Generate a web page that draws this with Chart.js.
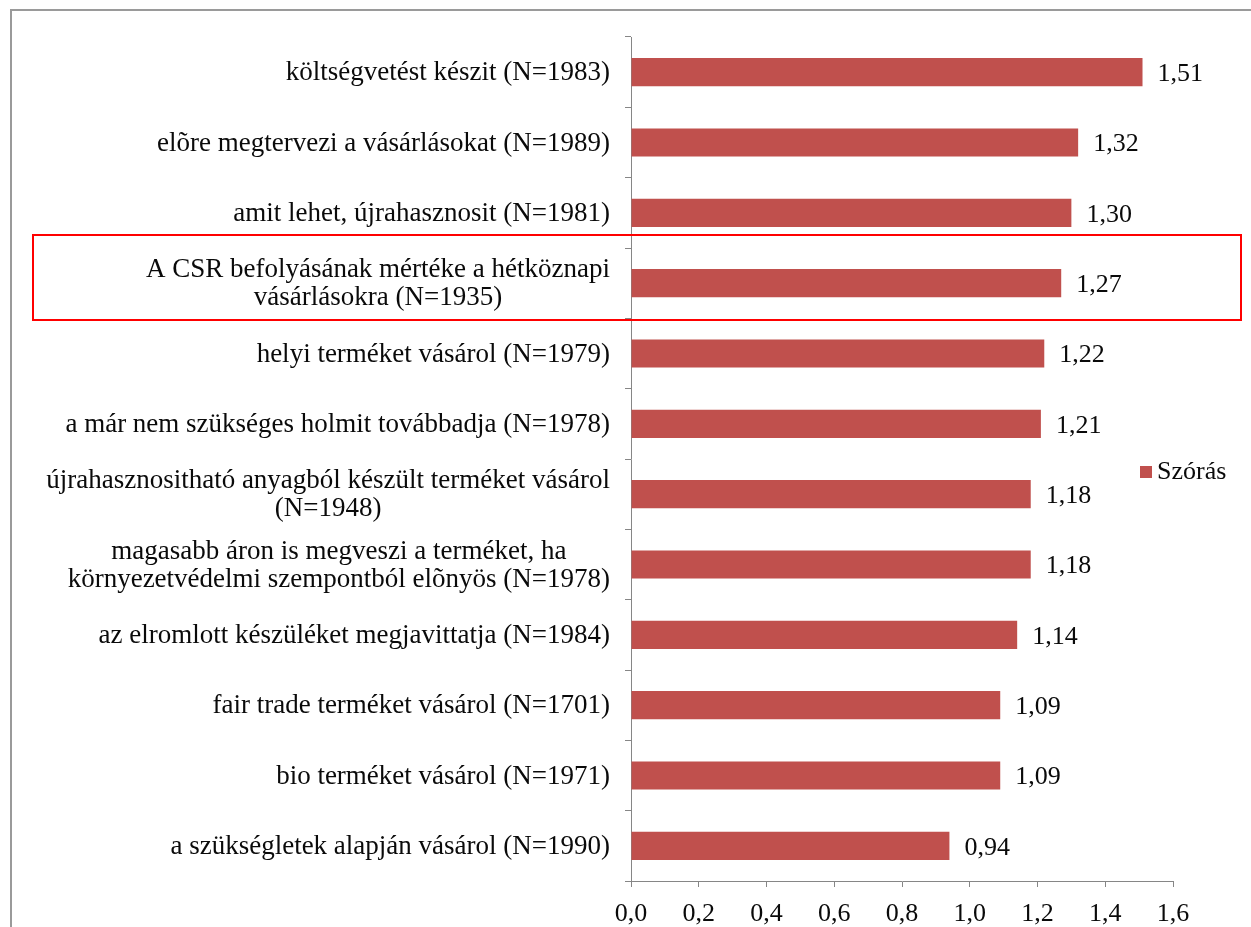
<!DOCTYPE html>
<html>
<head>
<meta charset="utf-8">
<script src="https://cdn.jsdelivr.net/npm/chart.js@4.4.1/dist/chart.umd.min.js"></script>
<style>
  html, body { margin: 0; padding: 0; background: #ffffff; }
  #wrap { position: relative; width: 1251px; height: 927px; }
</style>
</head>
<body>
<div id="wrap"><canvas id="chart" width="1251" height="927"></canvas></div>
<script>
// Category labels (multi-line ones as arrays of lines)
const categories = [
  "költségvetést készit (N=1983)",
  "elõre megtervezi a vásárlásokat (N=1989)",
  "amit lehet, újrahasznosit (N=1981)",
  ["A CSR befolyásának mértéke a hétköznapi", "vásárlásokra (N=1935)"],
  "helyi terméket vásárol (N=1979)",
  "a már nem szükséges holmit továbbadja (N=1978)",
  ["újrahasznositható anyagból készült terméket vásárol", "(N=1948)"],
  ["magasabb áron is megveszi a terméket, ha", "környezetvédelmi szempontból elõnyös (N=1978)"],
  "az elromlott készüléket megjavittatja (N=1984)",
  "fair trade terméket vásárol (N=1701)",
  "bio terméket vásárol (N=1971)",
  "a szükségletek alapján vásárol (N=1990)"
];

// Standard deviation per item
const szorasValues = [1.51, 1.32, 1.30, 1.27, 1.22, 1.21, 1.18, 1.18, 1.14, 1.09, 1.09, 0.94];

const seriesName = "Szórás";

// Value axis ticks
const xTicks = [0, 0.2, 0.4, 0.6, 0.8, 1.0, 1.2, 1.4, 1.6];

// Row that gets the red outline
const highlightIndex = 3;

const FONT = "'Liberation Serif', 'Times New Roman', serif";
const LABEL_SIZE = 27;
const TICK_SIZE = 26;
const TEXT_COLOR = "#0a0a0a";
const BAR_COLOR = "#C0504D";
const AXIS_COLOR = "#868686";

const fmt = v => v.toFixed(2).replace(".", ",");
const fmtTick = v => v.toFixed(1).replace(".", ",");

// Frame around the whole figure
const framePlugin = {
  id: "frame",
  beforeDraw(chart) {
    const ctx = chart.ctx;
    ctx.save();
    ctx.strokeStyle = "#9a9a9a";
    ctx.lineWidth = 2;
    ctx.beginPath();
    ctx.moveTo(11, chart.height + 5);
    ctx.lineTo(11, 10);
    ctx.lineTo(chart.width + 5, 10);
    ctx.stroke();
    ctx.restore();
  }
};

// Category labels: each block right-aligned, its lines centred within the block
const categoryLabelPlugin = {
  id: "categoryLabels",
  afterDraw(chart) {
    const ctx = chart.ctx;
    const y = chart.scales.y;
    const rightEdge = y.right - 21;
    const lineH = 28;
    ctx.save();
    ctx.font = LABEL_SIZE + "px " + FONT;
    ctx.fillStyle = TEXT_COLOR;
    ctx.textAlign = "center";
    ctx.textBaseline = "middle";
    chart.data.labels.forEach((lab, i) => {
      const lines = Array.isArray(lab) ? lab : [lab];
      const w = Math.max(...lines.map(l => ctx.measureText(l).width));
      const cx = rightEdge - w / 2;
      const cy = y.getPixelForValue(i) + 1;
      lines.forEach((l, k) => {
        ctx.fillText(l, cx, cy + (k - (lines.length - 1) / 2) * lineH);
      });
    });
    ctx.restore();
  }
};

// Value labels to the right of each bar
const valueLabelPlugin = {
  id: "valueLabels",
  afterDatasetsDraw(chart) {
    const ctx = chart.ctx;
    const meta = chart.getDatasetMeta(0);
    const data = chart.data.datasets[0].data;
    ctx.save();
    ctx.font = TICK_SIZE + "px " + FONT;
    ctx.fillStyle = TEXT_COLOR;
    ctx.textAlign = "left";
    ctx.textBaseline = "middle";
    meta.data.forEach((bar, i) => {
      ctx.fillText(fmt(data[i]), bar.x + 15, bar.y + 2);
    });
    ctx.restore();
  }
};

// Legend entry drawn at the right of the plot
const legendPlugin = {
  id: "sideLegend",
  afterDraw(chart) {
    const ctx = chart.ctx;
    const ds = chart.data.datasets[0];
    const y = chart.scales.y;
    const cy = (y.top + y.bottom) / 2 + 13;
    const x0 = chart.chartArea.right - 33;
    ctx.save();
    ctx.fillStyle = ds.backgroundColor;
    ctx.fillRect(x0, cy - 6, 12, 12);
    ctx.font = TICK_SIZE + "px " + FONT;
    ctx.fillStyle = TEXT_COLOR;
    ctx.textAlign = "left";
    ctx.textBaseline = "middle";
    ctx.fillText(ds.label, x0 + 17, cy);
    ctx.restore();
  }
};

// Red outline around the highlighted row
const highlightPlugin = {
  id: "highlight",
  afterDraw(chart) {
    const ctx = chart.ctx;
    const y = chart.scales.y;
    const step = y.getPixelForValue(1) - y.getPixelForValue(0);
    const cy = y.getPixelForValue(highlightIndex);
    ctx.save();
    ctx.strokeStyle = "#ff0000";
    ctx.lineWidth = 2;
    ctx.strokeRect(33, Math.round(cy - 0.68 * step), 1208, Math.round(1.21 * step));
    ctx.restore();
  }
};

new Chart(document.getElementById("chart"), {
  type: "bar",
  data: {
    labels: categories,
    datasets: [{
      label: seriesName,
      data: szorasValues,
      backgroundColor: BAR_COLOR,
      borderWidth: 0,
      categoryPercentage: 1.0,
      barPercentage: 0.4
    }]
  },
  options: {
    indexAxis: "y",
    responsive: false,
    animation: false,
    devicePixelRatio: 1,
    layout: { padding: { top: 37, right: 78, left: 0, bottom: 0 } },
    plugins: {
      legend: { display: false },
      tooltip: { enabled: false }
    },
    scales: {
      x: {
        type: "linear",
        min: 0,
        max: 1.6,
        afterBuildTicks: axis => { axis.ticks = xTicks.map(v => ({ value: v })); },
        afterFit: axis => { axis.height = 46; },
        ticks: {
          callback: v => fmtTick(v),
          font: { family: FONT, size: TICK_SIZE },
          color: TEXT_COLOR,
          padding: 12,
          maxRotation: 0
        },
        grid: {
          drawOnChartArea: false,
          drawTicks: true,
          tickLength: 6,
          color: AXIS_COLOR,
          lineWidth: 1
        },
        border: { color: AXIS_COLOR, width: 1 }
      },
      y: {
        type: "category",
        afterFit: axis => { axis.width = 631; },
        ticks: { display: false },
        grid: {
          offset: true,
          drawOnChartArea: false,
          drawTicks: true,
          tickLength: 6,
          color: AXIS_COLOR,
          lineWidth: 1
        },
        border: { color: AXIS_COLOR, width: 1 }
      }
    }
  },
  plugins: [framePlugin, highlightPlugin, valueLabelPlugin, categoryLabelPlugin, legendPlugin]
});
</script>
</body>
</html>
